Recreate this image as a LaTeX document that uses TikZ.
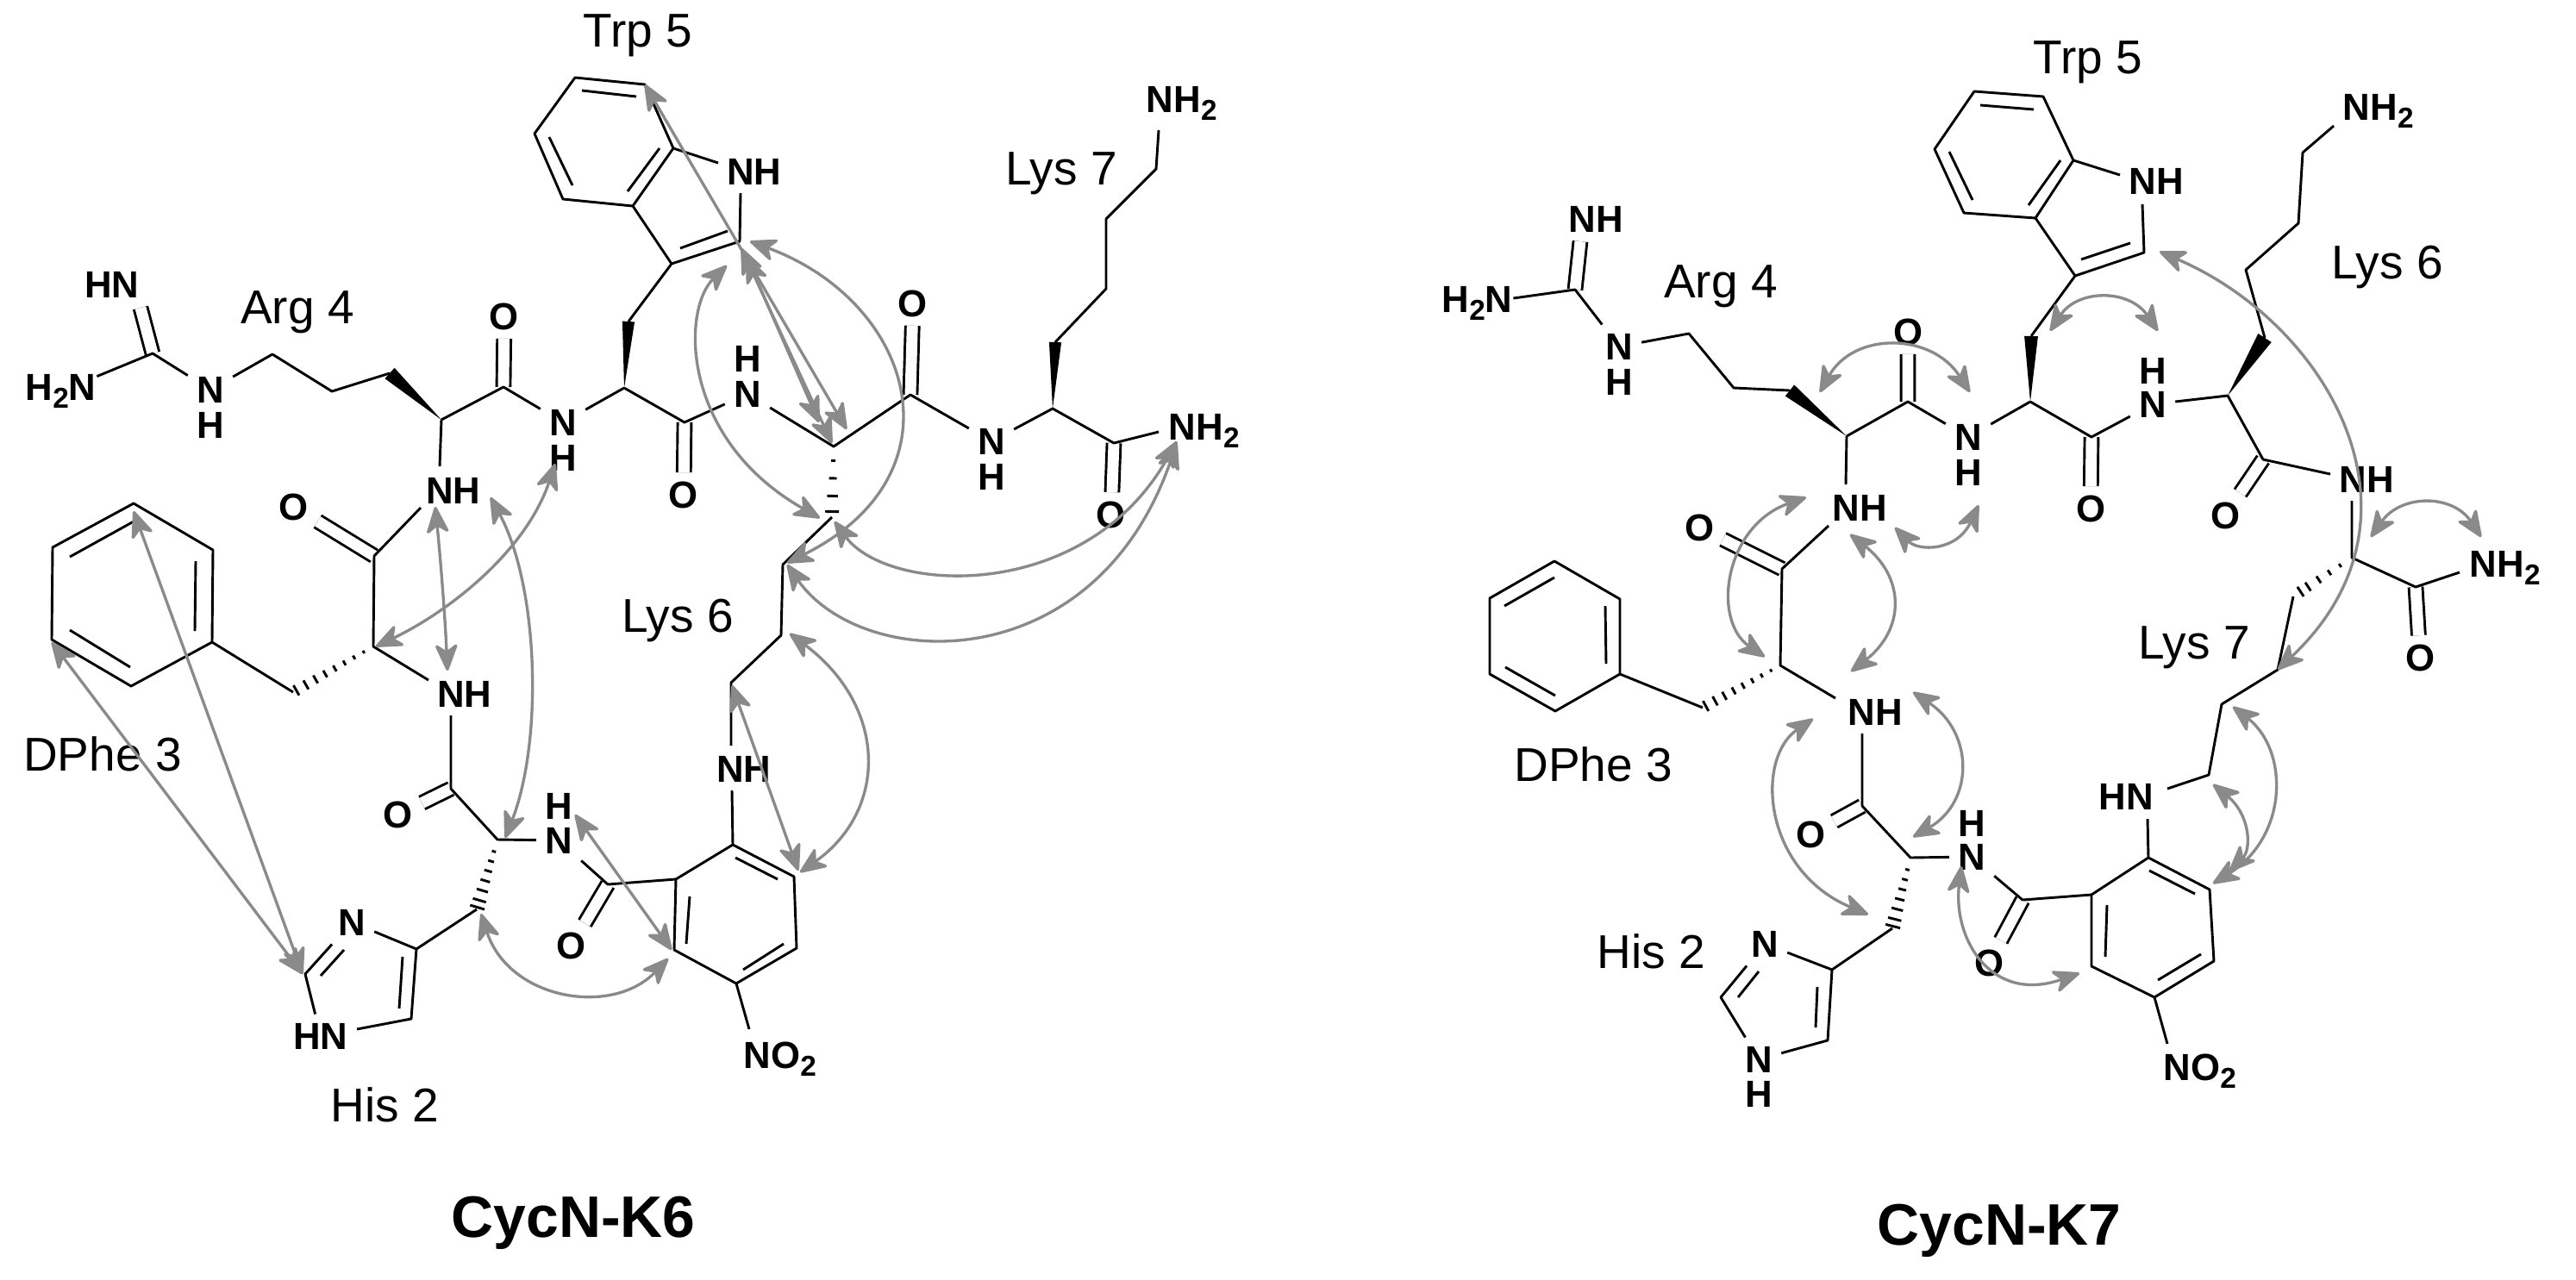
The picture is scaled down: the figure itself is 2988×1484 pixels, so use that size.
\documentclass[tikz,border=0pt]{standalone}
\usepackage{fontspec}
\setmainfont{Liberation Sans}
\usetikzlibrary{arrows.meta,calc}
\definecolor{noegray}{HTML}{8A8A8A}
\newcommand\subs[1]{\raisebox{-0.42ex}{\fontsize{8}{9}\selectfont #1}}
\newcommand\atoms[1]{\foreach \n/\x/\y in {#1} {\coordinate (\n) at (\x,\y);}}
\newcommand\wdg[3]{\fill (#1) -- ($(#2)!#3pt!90:(#1)$) -- ($(#2)!#3pt!-90:(#1)$) -- cycle;}
\newcommand\hashb[3]{\foreach \t in {#3} {\pgfmathsetmacro\w{(0.25+\t*#2)}
  \draw[hashl] ($(#1)!\t!(HASHEND)!\w pt!90:(HASHEND)$) -- ($(#1)!\t!(HASHEND)!\w pt!-90:(HASHEND)$);}}
\newcommand\noe[5]{\coordinate (#1s) at #2; \coordinate (#1e) at #5; \draw[noe] (#1s) .. controls #3 and #4 .. (#1e);}
\newcommand\noel[3]{\coordinate (#1s) at #2; \coordinate (#1e) at #3; \draw[noe] (#1s) -- (#1e);}
\tikzset{
  x=0.24pt,y=-0.24pt,
  bond/.style={line width=0.7pt,line join=round},
  hashl/.style={line width=0.7pt},
  dbl/.style={line width=0.7pt,double,double distance=3.1pt},
  noe/.style={draw=noegray,line width=0.8pt,{Stealth[length=8.5pt,width=7pt,inset=2.4pt,round]}-{Stealth[length=8.5pt,width=7pt,inset=2.4pt,round]}},
  atom/.style={font=\fontsize{10.5}{12}\selectfont\bfseries,inner sep=2.3pt},
  atomw/.style={atom,anchor=base west,inner sep=0pt},
  lbl/.style={font=\fontsize{13.2}{15}\selectfont,inner sep=0pt},
  ttl/.style={font=\fontsize{16.3}{19}\selectfont\bfseries,inner sep=0pt},
}
\begin{document}
\begin{tikzpicture}
\useasboundingbox (0,0) rectangle (2988,1484);
% ---------- CycN-K6 atoms
\atoms{lg/177/410,lgD/163/357,la1/316/411,la2/385/454,la3/452/433,lCa4/512/487,lC4/584/449,lCa5/724/450,lb5/729/373,lC3/779/306,lC2/858/280,lC7a/781/172,lC3a/734/239,lz1/667/90,lz2/748/98,lz3/620/155,lz4/653/231,lC5/794/490,lCa6/967/518,lC6/1056/458,lCa7/1221/474,lb7/1224/397,lk1/1283/335,lk2/1283/254,lk3/1341/196,lk4/1344/151,lCt/1292/514,ltN/1344/501,lb6/965/600,lm1/908/655,lm2/906/737,lm3/848/792,lNeu/848/865,lNed/849/917,lr1/850/980,lr2/921/1017,lr3/924/1100,lr4/854/1141,lr5/782/1102,lr6/784/1020,lno/869/1194}
\atoms{lC2p/705/1026,lCa2/577/974,lC3p/523/915,lCa3/433/750,lC3q/434/645,lNga/497/789,lNgb/523/830,lNhu/510/541,lNhl/488/589,lNiu/859/224,lNil/833/189,lp1/340/803,lp2/246/745,lp3/152/796,lp4/60/742,lp5/61/635,lp6/155/584,lp7/247/638,lh0/553/1055,lh4/483/1101,lh5/477/1182,lh2/354/1130}
% ---------- CycN-K7 atoms
\atoms{rg/1827/336,rgD/1833/280,ra1/1959/387,ra2/2011/450,ra3/2076/453,rCa4/2142/506,rC4/2213/466,rCa5/2355/466,rb5/2356/390,rC3/2407/320,rC2/2487/293,rC7a/2405/186,rC3a/2361/253,rz1/2290/106,rz2/2370/112,rz3/2244/173,rz4/2278/247,rC5/2426/507,rCa6/2584/459,rC6/2625/533,rb6/2627/392,rk1/2605/313,rk2/2666/259,rk3/2671/177,rk4/2707/146,rNtl/2703/550,rNtd/2728/581,rCa7/2728/647,rCt/2802/681,rtN/2853/664,rb7/2666/688,rm1/2660/692,rm2/2642/777,rm3/2577/817,rm4/2562/899,rNer/2514/915,rNed/2491/950}
\atoms{rr1/2492/995,rr2/2563/1032,rr3/2568/1115,rr4/2499/1157,rr5/2426/1121,rr6/2426/1038,rno/2514/1211,rC2p/2346/1044,rCa2/2216/995,rC3p/2160/935,rCa3/2065/772,rC3q/2067/660,rNga/2129/810,rNgb/2160/851,rNhu/2141/562,rNhl/2121/610,rNiu/2485/237,rNil/2459/203,rp1/1975/821,rp2/1879/782,rp3/1804/825,rp4/1728/782,rp5/1728/694,rp6/1803/651,rp7/1879/695,rh0/2195/1077,rh4/2125/1125,rh5/2120/1207,rh2/1996/1157}
% ---------- labels
\node[atom] (lHN) at (130,330) {HN};
\node[atomw] (lH2N) at (29,464) {H\subs{2}N};
\node[atom] (lNa) at (244,452) {N};
\node[atom] (lHa) at (244,493) {H};
\node[atom] (lO4) at (585,367) {O};
\node[atom] (lNb) at (653,490) {N};
\node[atom] (lHb) at (653,531) {H};
\node[atom] (lNHi) at (875,199) {NH};
\node[atom] (lO5) at (793,574) {O};
\node[atom] (lNc) at (867,457) {N};
\node[atom] (lHc) at (867,416) {H};
\node[atom] (lO6) at (1059,352) {O};
\node[atom] (lNd) at (1150,512) {N};
\node[atom] (lHd) at (1150,553) {H};
\node[atomw] (lNH2a) at (1329,130) {NH\subs{2}};
\node[atomw] (lNH2b) at (1355,510) {NH\subs{2}};
\node[atom] (lOt) at (1289,597) {O};
\node[atom] (lNHh) at (526,569) {NH};
\node[atom] (lO3) at (341,588) {O};
\node[atom] (lNHg) at (539,805) {NH};
\node[atom] (lO2) at (462,945) {O};
\node[atom] (lNHe) at (863,892) {NH};
\node[atom] (lNf) at (648,975) {N};
\node[atom] (lHf) at (648,935) {H};
\node[atom] (lO1) at (663,1097) {O};
\node[atomw] (lNO2) at (862,1239) {NO\subs{2}};
\node[atom] (lhN3) at (408,1070) {N};
\node[atom] (lhN1) at (372,1202) {HN};
\node[lbl] (lTrp) at (740,41) {Trp 5};
\node[lbl] (lArg) at (345,362) {Arg 4};
\node[lbl] (lLys7) at (1231,201) {Lys 7};
\node[lbl] (lLys6) at (786,720) {Lys 6};
\node[lbl] (lDPhe) at (119,875) {DPhe 3};
\node[lbl] (lHis) at (446,1282) {His 2};
\node[ttl] (lTitle) at (665,1419) {CycN-K6};
%
\node[atom] (rNHa) at (1851,254) {NH};
\node[atomw] (rH2N) at (1672,362) {H\subs{2}N};
\node[atom] (rNa) at (1878,402) {N};
\node[atom] (rHa) at (1878,443) {H};
\node[atom] (rO4) at (2213,385) {O};
\node[atom] (rNb) at (2283,507) {N};
\node[atom] (rHb) at (2283,548) {H};
\node[atom] (rNHi) at (2501,210) {NH};
\node[atom] (rO5) at (2425,590) {O};
\node[atom] (rNc) at (2497,469) {N};
\node[atom] (rHc) at (2497,430) {H};
\node[atom] (rO6) at (2581,598) {O};
\node[atom] (rNHt) at (2745,556) {NH};
\node[atomw] (rNH2a) at (2717,139) {NH\subs{2}};
\node[atomw] (rNH2b) at (2864,669) {NH\subs{2}};
\node[atom] (rOt) at (2807,763) {O};
\node[atom] (rNHh) at (2157,589) {NH};
\node[atom] (rO3) at (1971,612) {O};
\node[atom] (rNHg) at (2175,826) {NH};
\node[atom] (rO2) at (2100,968) {O};
\node[atom] (rNHe) at (2466,924) {HN};
\node[atom] (rNf) at (2287,994) {N};
\node[atom] (rHf) at (2287,955) {H};
\node[atom] (rO1) at (2307,1117) {O};
\node[atomw] (rNO2) at (2509,1253) {NO\subs{2}};
\node[atom] (rhN3) at (2047,1095) {N};
\node[atom] (rhN1) at (2040,1229) {N};
\node[atom] (rhH1) at (2040,1269) {H};
\node[lbl] (rTrp) at (2422,72) {Trp 5};
\node[lbl] (rArg) at (1996,332) {Arg 4};
\node[lbl] (rLys6) at (2769,310) {Lys 6};
\node[lbl] (rLys7) at (2545,751) {Lys 7};
\node[lbl] (rDPhe) at (1848,887) {DPhe 3};
\node[lbl] (rHis) at (1915,1104) {His 2};
\node[ttl] (rTitle) at (2319,1428) {CycN-K7};
% ---------- double bonds
\draw[dbl] (lg)--(lgD) (lC4)--(lO4) (lC5)--(lO5) (lC6)--(lO6) (lCt)--(lOt) (lC3q)--(lO3) (lC3p)--(lO2) (lC2p)--(lO1);
\draw[dbl] (rg)--(rgD) (rC4)--(rO4) (rC5)--(rO5) (rC6)--(rO6) (rCt)--(rOt) (rC3q)--(rO3) (rC3p)--(rO2) (rC2p)--(rO1);
% ---------- CycN-K6 single bonds
\begin{scope}[bond]
\draw (lH2N)--(lg)--(lNa) (lNa)--(la1)--(la2)--(la3);
\draw (lCa4)--(lC4)--(lNb)--(lCa5) (lb5)--(lC3)--(lC2)--(lNiu) (lNil)--(lC7a);
\draw (lC7a)--(lz2)--(lz1)--(lz3)--(lz4)--(lC3a)--cycle (lC3a)--(lC3);
\draw (lCa5)--(lC5)--(lNc)--(lCa6)--(lC6)--(lNd)--(lCa7)--(lCt)--(ltN);
\draw (lb7)--(lk1)--(lk2)--(lk3)--(lk4);
\draw (lb6)--(lm1)--(lm2)--(lm3)--(lNeu) (lNed)--(lr1);
\draw (lr1)--(lr2)--(lr3)--(lr4)--(lr5)--(lr6)--cycle (lr4)--(lno);
\draw (lr6)--(lC2p)--(lNf)--(lCa2)--(lC3p)--(lNgb) (lNga)--(lCa3)--(lC3q)--(lNhl) (lNhu)--(lCa4);
\draw (lp1)--(lp2) (lp2)--(lp3)--(lp4)--(lp5)--(lp6)--(lp7)--cycle;
\draw (lh0)--(lh4)--(lh5)--(lhN1)--(lh2)--(lhN3)--(lh4);
% inner ring lines
\draw (675,105)--(738,112) (637,159)--(664,215) (765,172)--(728,222) (789,288)--(844,268);
\draw (853,995)--(902,1020) (909,1095)--(862,1125) (800,1040)--(796,1095);
\draw (81,646)--(155,605) (227,651)--(226,732) (81,731)--(151,774);
\draw (372,1132)--(399,1102) (467,1110)--(463,1170);
% ---------- CycN-K7 single bonds
\draw (rH2N)--(rg)--(rNa) (rNa)--(ra1)--(ra2)--(ra3);
\draw (rCa4)--(rC4)--(rNb)--(rCa5) (rb5)--(rC3)--(rC2)--(rNiu) (rNil)--(rC7a);
\draw (rC7a)--(rz2)--(rz1)--(rz3)--(rz4)--(rC3a)--cycle (rC3a)--(rC3);
\draw (rCa5)--(rC5)--(rNc)--(rCa6)--(rC6)--(rNtl) (rNtd)--(rCa7)--(rCt)--(rtN);
\draw (rb6)--(rk1)--(rk2)--(rk3)--(rk4);
\draw (rm1)--(rm2)--(rm3)--(rm4)--(rNer) (rNed)--(rr1);
\draw (rr1)--(rr2)--(rr3)--(rr4)--(rr5)--(rr6)--cycle (rr4)--(rno);
\draw (rr6)--(rC2p)--(rNf)--(rCa2)--(rC3p)--(rNgb) (rNga)--(rCa3)--(rC3q)--(rNhl) (rNhu)--(rCa4);
\draw (rp1)--(rp2) (rp2)--(rp3)--(rp4)--(rp5)--(rp6)--(rp7)--cycle;
\draw (rh0)--(rh4)--(rh5)--(rhN1)--(rh2)--(rhN3)--(rh4);
\draw (2297,122)--(2359,127) (2261,176)--(2288,232) (2390,186)--(2353,238) (2414,301)--(2471,282);
\draw (2493,1010)--(2546,1037) (2553,1107)--(2503,1137) (2444,1050)--(2442,1110);
\draw (1745,703)--(1803,670) (1862,703)--(1863,770) (1746,774)--(1804,807);
\draw (2016,1157)--(2040,1127) (2108,1145)--(2106,1192);
\end{scope}
% ---------- wedges
\wdg{lCa4}{la3}{2.0}
\wdg{lCa5}{lb5}{1.7}
\wdg{lCa7}{lb7}{1.7}
\wdg{rCa4}{ra3}{2.0}
\wdg{rCa5}{rb5}{1.9}
\wdg{rCa6}{rb6}{2.2}
% ---------- hashed bonds
\coordinate (HASHEND) at (lb6); \hashb{lCa6}{1.8}{0.2,0.45,0.7,0.92}
\coordinate (HASHEND) at (lp1); \hashb{lCa3}{1.4}{0.12,0.24,0.36,0.48,0.6,0.72,0.84,0.96}
\coordinate (HASHEND) at (lh0); \hashb{lCa2}{1.9}{0.17,0.31,0.45,0.59,0.73,0.87,0.97}
\coordinate (HASHEND) at (rb7); \hashb{rCa7}{1.4}{0.22,0.42,0.62,0.82,0.96}
\coordinate (HASHEND) at (rp1); \hashb{rCa3}{1.4}{0.12,0.24,0.36,0.48,0.6,0.72,0.84,0.96}
\coordinate (HASHEND) at (rh0); \hashb{rCa2}{1.9}{0.17,0.31,0.45,0.59,0.73,0.87,0.97}
% ---------- NOE arrows CycN-K6
\noel{a1}{(748,98)}{(982,498)}
\noel{a2}{(860,288)}{(965,514)}
\noel{a3}{(866,298)}{(950,490)}
\noe{a4}{(843,308)}{(790,360)}{(790,510)}{(951,601)}
\noe{a5}{(870,280)}{(1060,350)}{(1120,550)}{(913,653)}
\noe{a6}{(968,605)}{(1030,690)}{(1260,700)}{(1365,512)}
\noe{a7}{(913,655)}{(1000,780)}{(1270,790)}{(1365,514)}
\noe{a8}{(644,538)}{(610,640)}{(520,710)}{(436,750)}
\noe{a9}{(505,588)}{(511,650)}{(516,710)}{(519,778)}
\noe{a10}{(569,577)}{(625,680)}{(630,860)}{(586,972)}
\noel{a11}{(155,593)}{(351,1130)}
\noel{a12}{(60,745)}{(351,1130)}
\noel{a13}{(667,945)}{(779,1102)}
\noe{a14}{(558,1060)}{(590,1160)}{(710,1180)}{(775,1112)}
\noe{a15}{(916,735)}{(1030,820)}{(1030,940)}{(928,1012)}
\noel{a16}{(849,795)}{(926,1010)}
% ---------- NOE arrows CycN-K7
\noe{b1}{(2111,455)}{(2150,385)}{(2240,385)}{(2285,455)}
\noe{b2}{(2198,612)}{(2225,640)}{(2270,640)}{(2295,586)}
\noe{b3}{(2095,577)}{(2000,610)}{(1985,720)}{(2047,762)}
\noe{b4}{(2146,620)}{(2210,670)}{(2210,730)}{(2147,779)}
\noe{b5}{(2103,834)}{(2035,880)}{(2045,1010)}{(2167,1061)}
\noe{b6}{(2219,803)}{(2290,850)}{(2290,930)}{(2219,971)}
\noe{b7}{(2275,1005)}{(2265,1090)}{(2310,1165)}{(2412,1129)}
\noe{b8}{(2590,820)}{(2655,870)}{(2655,970)}{(2567,1025)}
\noe{b9}{(2567,910)}{(2610,945)}{(2612,985)}{(2586,1011)}
\noe{b10}{(2505,292)}{(2700,375)}{(2830,600)}{(2642,777)}
\noe{b11}{(2750,623)}{(2785,573)}{(2845,573)}{(2878,623)}
\noe{b12}{(2378,384)}{(2410,335)}{(2470,335)}{(2503,384)}
\end{tikzpicture}
\end{document}
